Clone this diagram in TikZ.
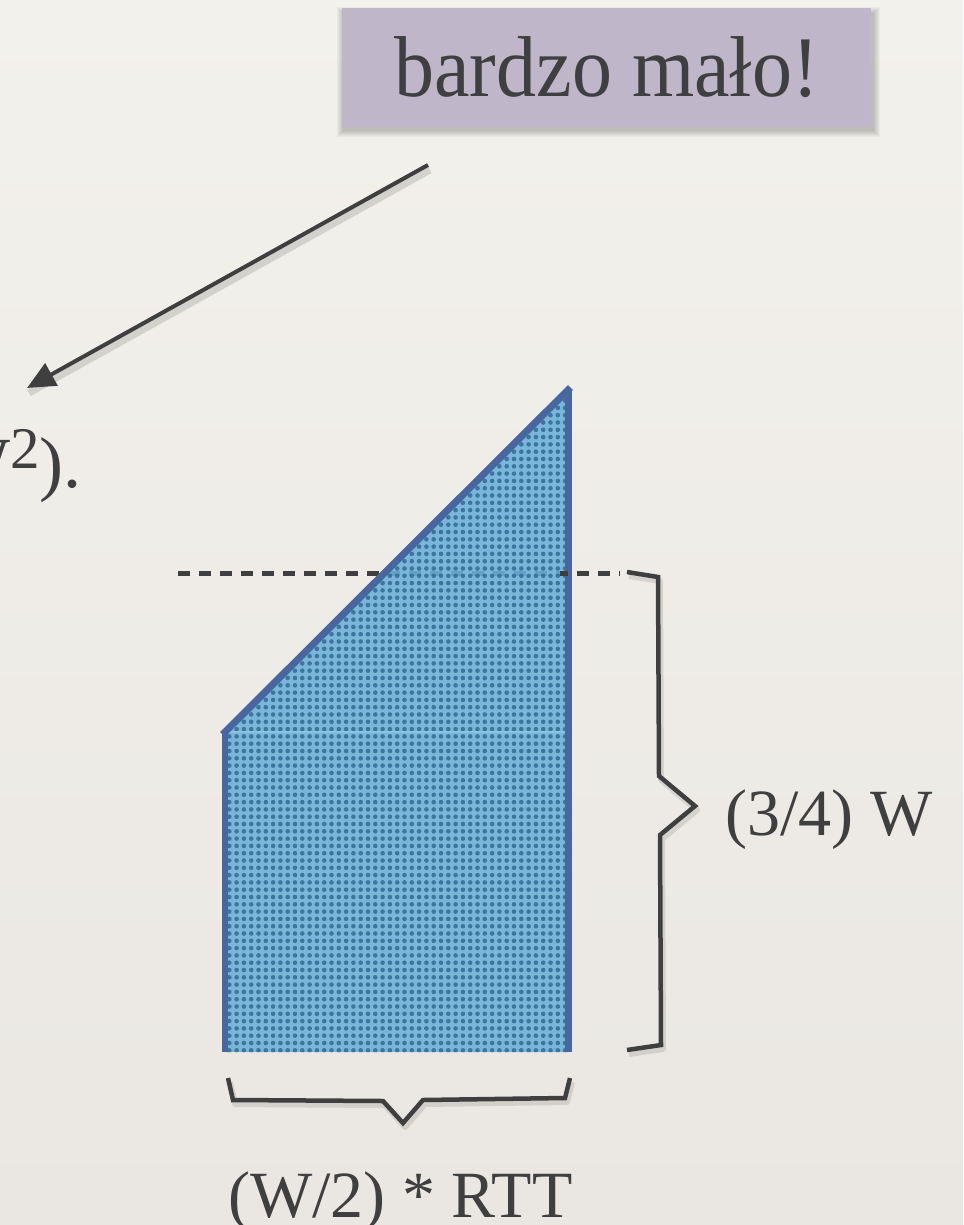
\documentclass[tikz,border=0pt]{standalone}
\usepackage{fontspec}
\setmainfont{Liberation Serif}
\usetikzlibrary{arrows.meta}
\definecolor{paper}{HTML}{F3F1EC}
\definecolor{paperb}{HTML}{EAE7E2}
\definecolor{ink}{HTML}{3F3F3F}
\definecolor{lav}{HTML}{BFB7C9}
\definecolor{bluefill}{HTML}{6AAFD7}
\definecolor{bluedot}{HTML}{2B6790}
\definecolor{bluestroke}{HTML}{4866A0}
\definecolor{bluefaint}{HTML}{8CC0E0}
\tikzset{
  brace/.style={draw=ink, line width=4.5pt, line join=miter},
  braceshadow/.style={draw=black, opacity=0.10, line width=6pt, line join=round},
  edgeline/.style={draw=bluestroke, line width=7pt},
  dashline/.style={draw=ink, line width=5pt, dash pattern=on 12pt off 9pt},
  lbl/.style={text=ink, inner sep=0pt, font=\fontsize{66}{66}\selectfont},
}
\begin{document}
\begin{tikzpicture}[x=1pt,y=-1pt]
\shade[top color=paper, bottom color=paperb] (0,0) rectangle (963,1225);
\useasboundingbox (0,0) rectangle (963,1225);

% box shadow
\foreach \k in {1,...,7} {
  \fill[black, opacity=0.03] (344-\k,14-\k) rectangle (873+\k,130+\k);
}
\node[fill=lav, minimum width=529pt, minimum height=119pt, inner sep=0pt,
      text=ink, font=\fontsize{80}{80}\selectfont] (box) at (606.5,67.5)
      {\scalebox{1.0}[1.08]{bardzo mało!}};

% arrow
\coordinate (atail) at (428,165);
\coordinate (ahead) at (27,388);
\draw[black, opacity=0.12, line width=7pt] ([shift={(2,5)}]atail) -- ([shift={(2,5)}]ahead);
\draw[ink, line width=4pt, -{Triangle[length=28pt, width=25pt]}] (atail) -- (ahead);

% partial text at left edge
\node[lbl, font=\fontsize{72}{72}\selectfont, anchor=base east] (partial) at (82,487)
  {W\raisebox{19pt}{\fontsize{59}{59}\selectfont 2}).};

% dashed level line
\coordinate (dl) at (178,573);
\coordinate (dr) at (620,573);
\draw[dashline] (dl) -- (dr);

% shape
\coordinate (A) at (225,732);
\coordinate (B) at (568,390);
\coordinate (C) at (568,1052);
\coordinate (D) at (225,1052);
\coordinate (E) at (568,732);
\fill[bluefill, opacity=0.88] (A) -- (B) -- (C) -- (D) -- cycle;
\begin{scope}
  \clip (A) -- (B) -- (C) -- (D) -- cycle;
  \foreach \i in {0,...,48} {
    \fill[bluedot, opacity=0.8] foreach \j in {0,...,92} { (222+\i*7.3, 386+\j*7.3) circle (2.3pt) };
  }
\end{scope}
\draw[bluefaint, line width=1.2pt] (A) -- (E);
\draw[edgeline, line cap=rect] (A) -- (B);
\draw[edgeline] (B) -- (C);
\draw[edgeline, line width=6pt] (A) -- (D);
\begin{scope}
  \clip (560,560) rectangle (640,590);
  \draw[dashline] (dl) -- (dr);
\end{scope}

% right brace
\draw[braceshadow] (629,576) -- (660,581) -- (661,780) -- (697,810) -- (662,839) -- (663,1049) -- (629,1054);
\draw[brace] (627,572) -- (658,577) -- (659,776) -- (695,806) -- (660,835) -- (661,1045) -- (627,1050);
\node[lbl, anchor=base west] (hlabel) at (725,835) {(3/4) W};

% bottom brace
\draw[braceshadow] (230,1082) -- (235,1104) -- (385,1105) -- (405,1127) -- (425,1104) -- (567,1102) -- (572,1082);
\draw[brace] (228,1078) -- (233,1100) -- (383,1101) -- (403,1123) -- (423,1100) -- (565,1098) -- (570,1078);
\node[lbl, anchor=base west] (wlabel) at (228,1217) {(W/2) * RTT};
\end{tikzpicture}
\end{document}
